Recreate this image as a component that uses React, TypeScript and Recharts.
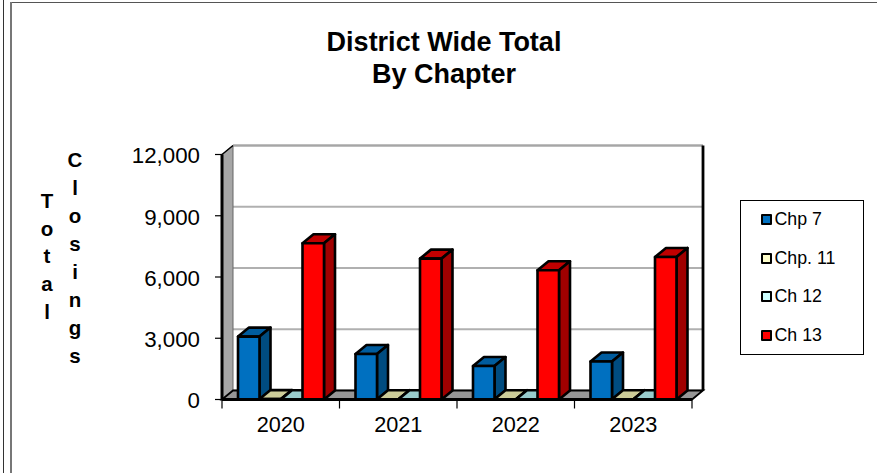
import { BarChart, Bar, XAxis, YAxis, CartesianGrid, Legend, usePlotArea } from 'recharts';

const years = ['2020', '2021', '2022', '2023'];
const chp7 = [3080, 2230, 1640, 1860];
const chp11 = [20, 15, 15, 15];
const ch12 = [15, 10, 10, 10];
const ch13 = [7650, 6900, 6330, 6980];
const yTicks = [0, 3000, 6000, 9000, 12000];

const titleLines = ['District Wide Total', 'By Chapter'];
const axisWordTotal = 'Total';
const axisWordClosings = 'Closings';

const seriesInfo = [
  { key: 'chp7', name: 'Chp 7', swatch: '#0070C0', front: '#0070C0', top: '#005C9E', side: '#004C80' },
  { key: 'chp11', name: 'Chp. 11', swatch: '#FFFFCC', front: '#FFFFCC', top: '#CCCC99', side: '#999966' },
  { key: 'ch12', name: 'Ch 12', swatch: '#CCFFFF', front: '#CCFFFF', top: '#99CCCC', side: '#669999' },
  { key: 'ch13', name: 'Ch 13', swatch: '#FF0000', front: '#FF0000', top: '#C00000', side: '#A00000' },
];

const data = years.map((year, i) => ({
  year,
  chp7: chp7[i],
  chp11: chp11[i],
  ch12: ch12[i],
  ch13: ch13[i],
}));

const DX = 11;
const DY = 9;
const FONT = '"Liberation Sans", Arial, sans-serif';

const Bar3D = ({ x, y, width, height, front, top, side }: any) => {
  const b = y + height;
  return (
    <g stroke="#000" strokeWidth={2.6} strokeLinejoin="round">
      <polygon points={`${x},${y} ${x + DX},${y - DY} ${x + width + DX},${y - DY} ${x + width},${y}`} fill={top} />
      <polygon points={`${x + width},${y} ${x + width + DX},${y - DY} ${x + width + DX},${b - DY} ${x + width},${b}`} fill={side} />
      <rect x={x} y={y} width={width} height={height} fill={front} />
    </g>
  );
};

// side wall, floor and the right hand edge of the box
const Walls = () => {
  const plot = usePlotArea();
  if (!plot) return null;
  const { x, y, width, height } = plot;
  const r = x + width;
  const b = y + height;
  return (
    <g>
      <polygon points={`${x},${y} ${x + DX},${y - DY} ${x + DX},${b - DY} ${x},${b}`} fill="#A6A6A6" stroke="#666" strokeWidth={1} />
      <polygon points={`${x},${b} ${x + DX},${b - DY} ${r + DX},${b - DY} ${r},${b}`} fill="#969696" stroke="#000" strokeWidth={1.8} />
      <line x1={x + DX} y1={y - DY} x2={r + DX} y2={y - DY} stroke="#A6A6A6" strokeWidth={2} />
      <line x1={r + DX} y1={y - DY} x2={r + DX} y2={b - DY} stroke="#000" strokeWidth={2.8} />
      <line x1={x} y1={y} x2={x + DX} y2={y - DY} stroke="#000" strokeWidth={1.5} />
    </g>
  );
};

const gridLine = (props: any) => (
  <line
    key={props.key ?? props.y1}
    x1={props.x1 + DX}
    y1={props.y1 - DY}
    x2={props.x2 + DX}
    y2={props.y2 - DY}
    stroke="#B0B0B0"
    strokeWidth={2.2}
  />
);

const YearTick = ({ x, y, payload, index }: any) => {
  const half = 470 / years.length / 2;
  return (
    <g>
      <line x1={x - half} y1={y - 8} x2={x - half} y2={y + 1} stroke="#000" strokeWidth={1.2} />
      {index === years.length - 1 && <line x1={x + half} y1={y - 8} x2={x + half} y2={y + 1} stroke="#000" strokeWidth={1.2} />}
      <text x={x} y={y + 24} textAnchor="middle" fontSize={21.7} fontFamily={FONT} fill="#000">
        {payload.value}
      </text>
    </g>
  );
};

const ChartLegend = () => (
  <div
    style={{
      width: 124.5,
      height: 155,
      boxSizing: 'border-box',
      border: '1.3px solid #000',
      background: '#fff',
      position: 'relative',
      fontFamily: FONT,
      fontSize: 17.8,
    }}
  >
    {seriesInfo.map((s, i) => (
      <div key={s.key} style={{ position: 'absolute', left: 20, top: 7 + i * 38.5, height: 24, display: 'flex', alignItems: 'center' }}>
        <span style={{ width: 7, height: 7, border: '2.2px solid #000', borderRadius: 1, background: s.swatch, marginRight: 3 }} />
        <span>{s.name}</span>
      </div>
    ))}
  </div>
);

export default function App() {
  return (
    <div style={{ position: 'absolute', left: 0, top: 0, width: 877, height: 473, background: '#fff', overflow: 'hidden' }}>
      <div style={{ position: 'absolute', left: 3, top: 0, width: 1, height: 473, background: '#333' }} />
      <div style={{ position: 'absolute', left: 10, top: 2, width: 867, height: 1, background: '#555' }} />
      <div style={{ position: 'absolute', left: 10, top: 2, width: 1.5, height: 471, background: '#777' }} />
      <BarChart
        width={877}
        height={473}
        data={data}
        barSize={21.5}
        barGap={0}
        margin={{ top: 154.5, right: 60, bottom: 33.5, left: 162 }}
        style={{ position: 'absolute', left: 0, top: 0 }}
      >
        <CartesianGrid vertical={false} horizontal={gridLine} />
        <Walls />
        <XAxis
          dataKey="year"
          height={40}
          axisLine={{ stroke: '#000', strokeWidth: 3 }}
          tickLine={false}
          tick={<YearTick />}
          interval={0}
        />
        <YAxis
          width={60}
          domain={[0, 12000]}
          ticks={yTicks}
          interval={0}
          axisLine={{ stroke: '#000', strokeWidth: 3 }}
          tickLine={{ stroke: '#000', strokeWidth: 1.2 }}
          tickSize={7}
          tickMargin={15}
          tickFormatter={(v: number) => v.toLocaleString('en-US')}
          tick={{ fill: '#000', fontSize: 22.3, fontFamily: FONT, dy: 1 }}
        />
        {seriesInfo.map((s) => (
          <Bar
            key={s.key}
            dataKey={s.key}
            name={s.name}
            isAnimationActive={false}
            shape={<Bar3D front={s.front} top={s.top} side={s.side} />}
          />
        ))}
        <Legend
          layout="vertical"
          align="right"
          verticalAlign="middle"
          content={<ChartLegend />}
          wrapperStyle={{ position: 'absolute', left: 739.5, top: 199.5, width: 125, height: 155 }}
        />
        <g fontFamily={FONT} fontWeight="bold" textAnchor="middle" fill="#000">
          {titleLines.map((line, i) => (
            <text key={line} x={444} y={50.5 + i * 32} fontSize={27}>
              {line}
            </text>
          ))}
          {axisWordTotal.split('').map((c, i) => (
            <text key={i} x={47} y={208 + i * 27.7} fontSize={20.5}>
              {c}
            </text>
          ))}
          {axisWordClosings.split('').map((c, i) => (
            <text key={i} x={75} y={167 + i * 28} fontSize={20.5}>
              {c}
            </text>
          ))}
        </g>
      </BarChart>
    </div>
  );
}
